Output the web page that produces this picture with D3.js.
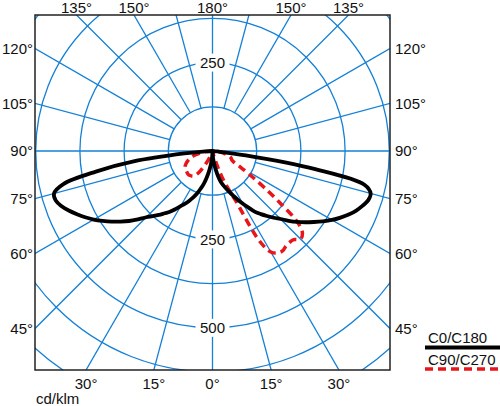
<!DOCTYPE html>
<html>
<head>
<meta charset="utf-8">
<script src="https://cdn.jsdelivr.net/npm/d3@7"></script>
<style>
  body { margin: 0; background: #fff; }
  text { font-family: "Liberation Sans", Arial, sans-serif; font-size: 15px; fill: #111; }
</style>
</head>
<body>
<div id="polar"></div>
<script>
// gamma angles (deg from nadir) and intensities in cd/klm
var gamma = [0, 2.5, 5, 7.5, 10, 12.5, 15, 17.5, 20, 22.5, 25, 27.5, 30, 32.5, 35, 37.5, 40, 42.5, 45,
             47.5, 50, 52.5, 55, 57.5, 60, 62.5, 65, 67.5, 70, 72.5, 75, 77.5, 80, 82.5, 85, 87.5, 90];
var c0   = [0, 10, 22, 38, 55, 73, 90, 102, 113, 126, 140, 156, 172, 190, 210, 225, 240, 256, 272,
            292, 312, 331, 350, 370, 390, 408, 425, 440, 452, 462, 463, 440, 295, 95, 15, 4, 0];
var c180 = [0, 12, 25, 42, 60, 78, 97, 112, 128, 142, 155, 168, 180, 195, 210, 222, 236, 250, 265,
            286, 308, 328, 348, 368, 388, 406, 423, 440, 455, 465, 464, 432, 335, 225, 80, 20, 0];
var c90  = [0, 0, 2, 4, 6, 9, 18, 40, 78, 112, 155, 285, 330, 342, 345, 340, 338, 340, 352,
            345, 315, 240, 175, 125, 92, 68, 60, 58, 55, 50, 44, 37, 30, 22, 14, 6, 0];
var c270 = [0, 0, 0, 0, 0, 2, 4, 6, 10, 16, 26, 40, 56, 72, 83, 89, 92, 94, 95,
            95, 94, 93, 92, 91, 90, 86, 82, 77, 72, 65, 58, 50, 38, 28, 18, 9, 0];

var rings = [125, 250, 375, 500, 625, 750, 875];
var ringLabels = [{v: 250, up: true}, {v: 250, up: false}, {v: 500, up: false}];
var topAngles = [-135, -150, 180, 150, 135];
var sideAngles = [120, 105, 90, 75, 60, 45];
var bottomAngles = [-30, -15, 0, 15, 30];
var legendNames = ["C0/C180", "C90/C270"];

var W = 500, H = 406;
var cx = 212.5, cy = 151;
var box = {left: 35, right: 390, top: 15, bottom: 370};
var blue = "#1580d6";

var r = d3.scaleLinear().domain([0, 125]).range([0, 44.2]);
var rad = Math.PI / 180;

var svg = d3.select("#polar").append("svg")
    .attr("width", W)
    .attr("height", H);

svg.append("clipPath").attr("id", "clip")
  .append("rect")
    .attr("x", box.left).attr("y", box.top)
    .attr("width", box.right - box.left).attr("height", box.bottom - box.top);

var grid = svg.append("g").attr("clip-path", "url(#clip)");

// rings
grid.selectAll("circle")
  .data(rings)
  .enter().append("circle")
    .attr("cx", cx).attr("cy", cy)
    .attr("r", function(d){ return r(d); })
    .attr("fill", "none")
    .attr("stroke", blue)
    .attr("stroke-width", 1.3);

// radial lines every 15 deg, only the axes go through the centre
grid.selectAll("line.spoke")
  .data(d3.range(0, 360, 15))
  .enter().append("line")
    .attr("class", "spoke")
    .attr("x1", function(a){ return cx + (a % 90 == 0 ? 0 : r(125)) * Math.sin(a * rad); })
    .attr("y1", function(a){ return cy + (a % 90 == 0 ? 0 : r(125)) * Math.cos(a * rad); })
    .attr("x2", function(a){ return cx + r(1200) * Math.sin(a * rad); })
    .attr("y2", function(a){ return cy + r(1200) * Math.cos(a * rad); })
    .attr("stroke", blue)
    .attr("stroke-width", 1.3);

// intensity value labels on the vertical axis
var rl = svg.selectAll("g.rlab")
  .data(ringLabels)
  .enter().append("g")
    .attr("class", "rlab")
    .attr("transform", function(d){ return "translate(" + cx + "," + (cy + (d.up ? -r(d.v) : r(d.v))) + ")"; });
rl.append("rect")
    .attr("x", -17).attr("y", -9).attr("width", 34).attr("height", 18)
    .attr("fill", "#fff");
rl.append("text")
    .attr("text-anchor", "middle")
    .attr("dy", "0.36em")
    .text(function(d){ return d.v; });

// curves
function pts(vals, side) {
  return gamma.map(function(g, i) {
    return [cx + side * r(vals[i]) * Math.sin(g * rad), cy + r(vals[i]) * Math.cos(g * rad)];
  });
}
function plane(a, b) {
  // left half from 90 down to 0, then right half from 0 up to 90
  return pts(b, -1).reverse().concat(pts(a, 1).slice(1));
}
var line = d3.line().curve(d3.curveCatmullRom.alpha(0.5));

var curves = svg.append("g").attr("clip-path", "url(#clip)");
curves.append("path")
    .attr("d", line(plane(c90, c270)))
    .attr("fill", "none")
    .attr("stroke", "#e8161b")
    .attr("stroke-width", 3.5)
    .attr("stroke-dasharray", "8,5");
curves.append("path")
    .attr("d", line(plane(c0, c180)))
    .attr("fill", "none")
    .attr("stroke", "#000")
    .attr("stroke-width", 3.8)
    .attr("stroke-linejoin", "round");

// frame
svg.append("rect")
    .attr("x", box.left).attr("y", box.top)
    .attr("width", box.right - box.left).attr("height", box.bottom - box.top)
    .attr("fill", "none")
    .attr("stroke", "#222")
    .attr("stroke-width", 1.5);

// angle labels where the spokes meet the frame
function dir(a) {
  var s = a < 0 ? -1 : 1, g = Math.abs(a) * rad;
  return [s * Math.sin(g), Math.cos(g)];
}
svg.selectAll("text.top")
  .data(topAngles)
  .enter().append("text")
    .attr("class", "top")
    .attr("text-anchor", "middle")
    .attr("x", function(a){ var d = dir(a); return cx + (box.top - cy) / d[1] * d[0]; })
    .attr("y", 12.5)
    .text(function(a){ return Math.abs(a) + "°"; });

svg.selectAll("text.bot")
  .data(bottomAngles)
  .enter().append("text")
    .attr("class", "bot")
    .attr("text-anchor", "middle")
    .attr("x", function(a){ var d = dir(a); return cx + (box.bottom - cy) / d[1] * d[0]; })
    .attr("y", 389)
    .text(function(a){ return Math.abs(a) + "°"; });

svg.selectAll("text.left")
  .data(sideAngles)
  .enter().append("text")
    .attr("class", "left")
    .attr("text-anchor", "end")
    .attr("x", 33)
    .attr("y", function(a){ var d = dir(-a); return cy + (box.left - cx) / d[0] * d[1]; })
    .attr("dy", "0.36em")
    .text(function(a){ return a + "°"; });

svg.selectAll("text.right")
  .data(sideAngles)
  .enter().append("text")
    .attr("class", "right")
    .attr("x", 395)
    .attr("y", function(a){ var d = dir(a); return cy + (box.right - cx) / d[0] * d[1]; })
    .attr("dy", "0.36em")
    .text(function(a){ return a + "°"; });

svg.append("text")
    .attr("x", 36).attr("y", 404)
    .text("cd/klm");

// legend
var lg = svg.selectAll("g.leg")
  .data(legendNames)
  .enter().append("g")
    .attr("class", "leg")
    .attr("transform", function(d, i){ return "translate(0," + (i * 21.5) + ")"; });
lg.append("text")
    .attr("x", 428).attr("y", 343)
    .text(function(d){ return d; });
lg.append("line")
    .attr("x1", 425).attr("x2", 500)
    .attr("y1", 347.5).attr("y2", 347.5)
    .attr("stroke", function(d, i){ return i == 0 ? "#000" : "#e8161b"; })
    .attr("stroke-width", function(d, i){ return i == 0 ? 4 : 3.5; })
    .attr("stroke-dasharray", function(d, i){ return i == 0 ? null : "8,5"; });
</script>
</body>
</html>
